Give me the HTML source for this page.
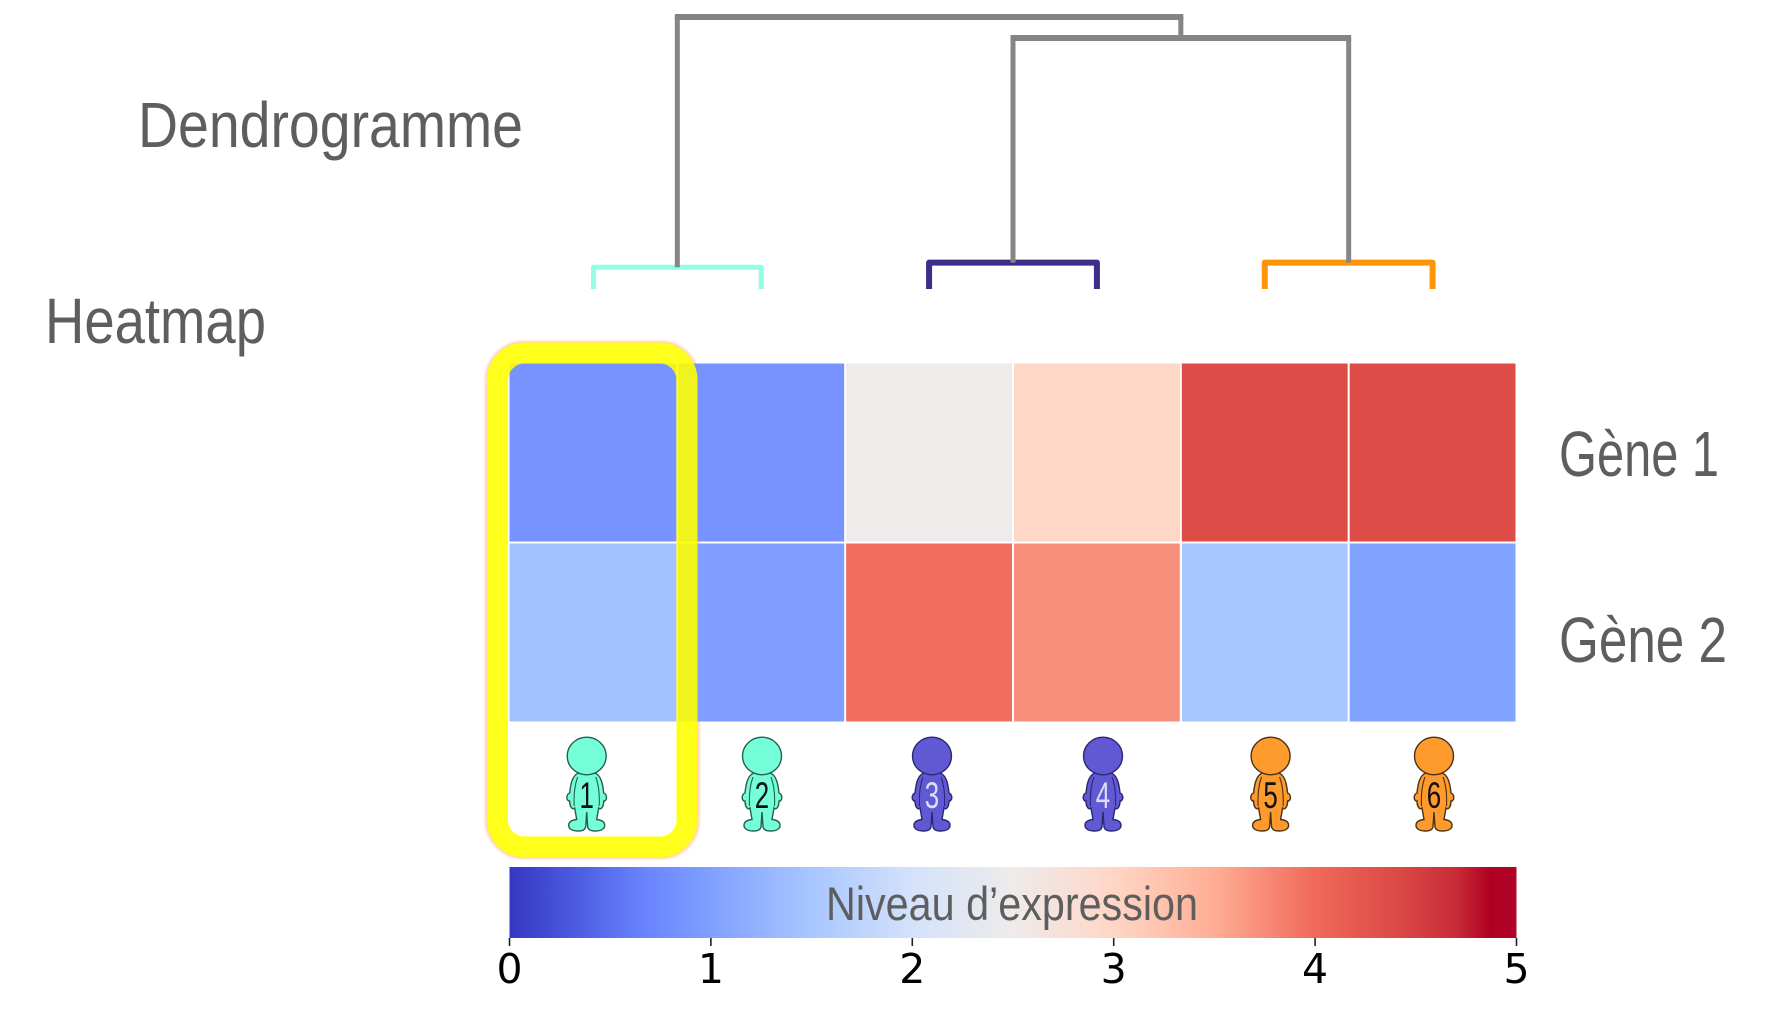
<!DOCTYPE html>
<html lang="fr">
<head>
<meta charset="utf-8">
<title>Dendrogramme et heatmap</title>
<style>
html,body{margin:0;padding:0;background:#fff;width:1766px;height:1023px;overflow:hidden}
svg{display:block}
.lbl{font-family:"Liberation Sans",sans-serif;fill:#5e5e5e}
</style>
</head>
<body>
<svg id="chart" xmlns="http://www.w3.org/2000/svg" width="1766" height="1023" viewBox="0 0 1766 1023">
  <defs>
    <linearGradient id="cbar" x1="0" x2="1" y1="0" y2="0"></linearGradient>
    <filter id="halo" x="-10%" y="-10%" width="120%" height="120%"><feGaussianBlur stdDeviation="1.2"/></filter>
  </defs>
  <rect width="1766" height="1023" fill="#ffffff"/>
  <rect x="486.5" y="342.5" width="211.5" height="515" rx="37" fill="none" stroke="#ffb98f" stroke-width="2.5" filter="url(#halo)" opacity="0.85"/>
  <g id="dendro" fill="none" stroke-linejoin="round"></g>
  <g id="cells"></g>
  <g id="people"></g>
  <rect x="497.5" y="353" width="189.5" height="494" rx="27" fill="none" stroke="#ffff00" stroke-width="21" opacity="0.89"/>
  <rect x="509.5" y="867" width="1007" height="71" fill="url(#cbar)"/>
  <g id="ticks"></g>
  <text class="lbl" x="826" y="920" font-size="47" textLength="372" lengthAdjust="spacingAndGlyphs">Niveau d’expression</text>
  <text class="lbl" x="138" y="147" font-size="64" textLength="385" lengthAdjust="spacingAndGlyphs">Dendrogramme</text>
  <text class="lbl" x="45" y="343" font-size="64" textLength="221" lengthAdjust="spacingAndGlyphs">Heatmap</text>
  <text id="g1" class="lbl" x="1559" y="476" font-size="64" textLength="160" lengthAdjust="spacingAndGlyphs">Gène 1</text>
  <text id="g2" class="lbl" x="1559" y="662" font-size="64" textLength="168" lengthAdjust="spacingAndGlyphs">Gène 2</text>
</svg>
<script>
// ---- chart data ----
const individuals = ["1", "2", "3", "4", "5", "6"];
const genes = ["Gène 1", "Gène 2"];
const gene1Values = [0.85, 0.85, 2.5, 2.98, 4.37, 4.37];
const gene2Values = [1.44, 0.98, 3.97, 3.72, 1.5, 1.02];
const colorTicks = [0, 1, 2, 3, 4, 5];
const clusterFirstColumn = [0, 2, 4];
const clusterHeights = [0.08, 0.097, 0.097];
const clusterNames = ["teal", "purple", "orange"];
const innerMergeHeight = 0.923;
const rootMergeHeight = 1.0;
const cmapValues = [0, 0.3, 0.68, 1, 1.5, 2, 2.5, 3, 3.5, 4, 4.4, 4.7, 4.87, 5];
const cmapColors = ["#3636c2", "#4a58de", "#6a85ff", "#80a0ff", "#a8c6ff", "#d4e2fb", "#eeebea", "#ffd6c6", "#ffad94", "#f0695a", "#dc4a46", "#c82c38", "#b00020", "#b0042a"];

// ---- scales ----
const NS = "http://www.w3.org/2000/svg";
const plotLeft = 509.5, plotRight = 1516.5, plotTop = 363.5, rowH = 179;
const colW = (plotRight - plotLeft) / individuals.length;
const xCenter = c => plotLeft + colW * (c + 0.5);
const yDendro = h => 289 - h * 272;
const xColor = v => plotLeft + (v / 5) * (plotRight - plotLeft);
const clusterStroke = { teal: "#91ffe4", purple: "#3a2d8c", orange: "#ff9408" };
const clusterWidth = { teal: 5, purple: 6, orange: 6 };
const personFill = ["#74ffd8", "#74ffd8", "#6158d4", "#6158d4", "#ff9a2c", "#ff9a2c"];
const personEdge = ["#24604e", "#24604e", "#2b2870", "#2b2870", "#4a3216", "#4a3216"];
const personDigit = ["#111", "#111", "#dcdcf8", "#dcdcf8", "#111", "#111"];
const personX = [586.7, 762, 932, 1103, 1270.6, 1434];

function hex(c) { return [1, 3, 5].map(i => parseInt(c.substr(i, 2), 16)); }
function colorOf(v) {
  let i = 0;
  while (i < cmapValues.length - 2 && v > cmapValues[i + 1]) i++;
  const t = Math.min(1, Math.max(0, (v - cmapValues[i]) / (cmapValues[i + 1] - cmapValues[i])));
  const a = hex(cmapColors[i]), b = hex(cmapColors[i + 1]);
  return "rgb(" + a.map((x, k) => Math.round(x + (b[k] - x) * t)).join(",") + ")";
}
function make(tag, attrs, parent) {
  const el = document.createElementNS(NS, tag);
  for (const k in attrs) el.setAttribute(k, attrs[k]);
  parent.appendChild(el);
  return el;
}

// colorbar gradient
const grad = document.getElementById("cbar");
cmapValues.forEach((v, i) => {
  make("stop", { offset: (v / 5 * 100) + "%", "stop-color": cmapColors[i] }, grad);
});

// heatmap cells
const cellsG = document.getElementById("cells");
[gene1Values, gene2Values].forEach((row, r) => {
  row.forEach((v, c) => {
    const rect = make("rect", {
      x: plotLeft + c * colW + (c ? 1 : 0),
      y: plotTop + r * rowH + (r ? 1 : 0),
      width: colW - (c ? 2 : 1),
      height: rowH - 1,
      fill: colorOf(v)
    }, cellsG);
    
    
  });
});

// dendrogram
const dendroG = document.getElementById("dendro");
clusterFirstColumn.forEach((c, i) => {
  const name = clusterNames[i];
  const y = yDendro(clusterHeights[i]);
  const p = make("path", {
    d: "M" + xCenter(c) + " " + yDendro(0) + "V" + y + "H" + xCenter(c + 1) + "V" + yDendro(0),
    stroke: clusterStroke[name],
    "stroke-width": clusterWidth[name]
  }, dendroG);
  
  
});
const innerY = yDendro(innerMergeHeight);
const rootY = yDendro(rootMergeHeight);
const innerLegs = make("path", {
  d: "M" + xCenter(2.5) + " " + yDendro(clusterHeights[1]) + "V" + innerY + "M" + xCenter(4.5) + " " + innerY + "V" + yDendro(clusterHeights[2]),
  stroke: "#868686", "stroke-width": 5
}, dendroG);


const innerBar = make("path", {
  d: "M" + (xCenter(2.5) - 2.5) + " " + innerY + "H" + (xCenter(4.5) + 2.5),
  stroke: "#848484", "stroke-width": 6
}, dendroG);


const rootLegs = make("path", {
  d: "M" + xCenter(0.5) + " " + yDendro(clusterHeights[0]) + "V" + rootY + "M" + xCenter(3.5) + " " + rootY + "V" + innerY,
  stroke: "#868686", "stroke-width": 5
}, dendroG);


const rootBar = make("path", {
  d: "M" + (xCenter(0.5) - 2.5) + " " + rootY + "H" + (xCenter(3.5) + 2.5),
  stroke: "#848484", "stroke-width": 6
}, dendroG);



// people
const peopleG = document.getElementById("people");
const bodyD = "M-8 773C-14 775-16 783-17 793C-20 794-21 799-18 801L-17 801C-17 804-16 807-15 808C-14 809-13 809-12 808L-10 819.5C-15 820-18 822-18 825.5C-18 829-14 831-9 831C-4 831-2 830-1 827L0 812L1 827C2 830 4 831 9 831C14 831 18 829 18 825.5C18 822 15 820 10 819.5L12 808C13 809 14 809 15 808C16 807 17 804 17 801L18 801C21 799 20 794 17 793C16 783 14 775 8 773Z";
individuals.forEach((label, i) => {
  const g = make("g", { transform: "translate(" + personX[i] + ",0)" }, peopleG);
  
  
  const body = make("path", { d: bodyD, fill: personFill[i], stroke: personEdge[i], "stroke-width": 1.4 }, g);
  
  
  const arms = make("path", { d: "M-9 777C-12 785-13 796-12.5 806M9 777C12 785 13 796 12.5 806", fill: "none", stroke: personEdge[i], "stroke-width": 1.1 }, g);
  
  
  const head = make("ellipse", { cx: 0, cy: 756, rx: 19.5, ry: 18.8, fill: personFill[i], stroke: personEdge[i], "stroke-width": 1.4 }, g);
  
  
  const t = make("text", {
    x: 0, y: 808, "text-anchor": "middle", "font-size": 37,
    "font-family": '"Liberation Sans", sans-serif', fill: personDigit[i],
    transform: "scale(0.7,1)"
  }, g);
  
  
  t.textContent = label;
});

// colorbar ticks
const ticksG = document.getElementById("ticks");
colorTicks.forEach(v => {
  const line = make("line", { x1: xColor(v), x2: xColor(v), y1: 938, y2: 946, stroke: "#222", "stroke-width": 1.6 }, ticksG);
  
  
  const t = make("text", {
    x: xColor(v), y: 983, "text-anchor": "middle", "font-size": 41,
    "font-family": '"DejaVu Sans", sans-serif', fill: "#000"
  }, ticksG);
  
  
  t.textContent = v;
});
</script>
</body>
</html>
